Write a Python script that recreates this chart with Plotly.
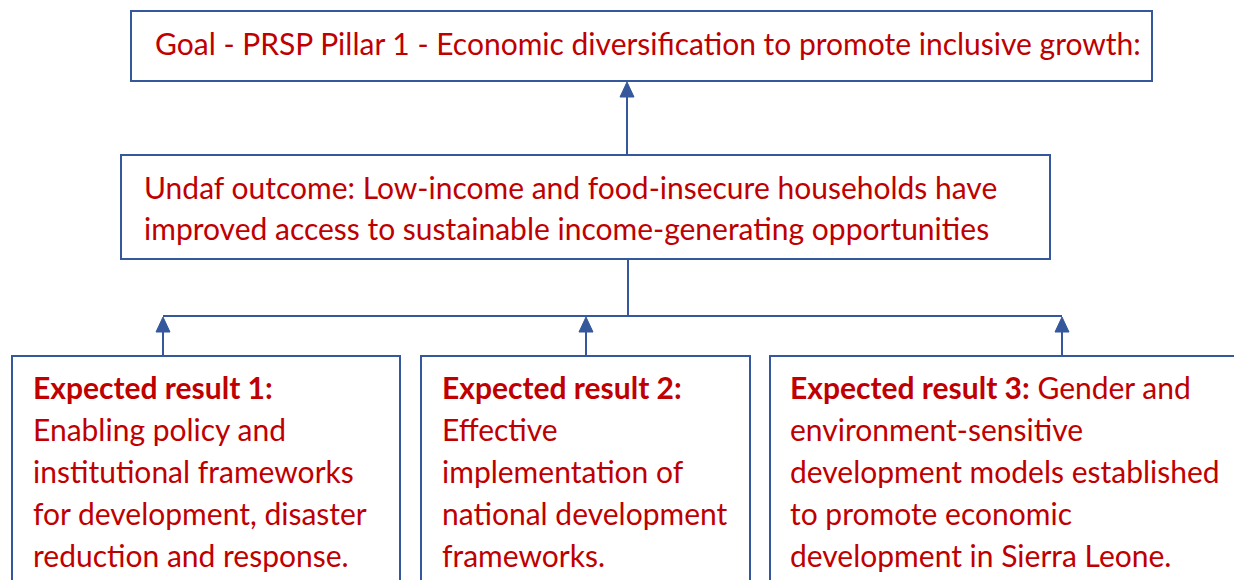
import plotly.graph_objects as go

# ---- content ----
goal_lines = ["Goal - PRSP Pillar 1 - Economic diversification to promote inclusive growth:"]
outcome_lines = [
    "Undaf outcome: Low-income and food-insecure households have",
    "improved access to sustainable income-generating opportunities",
]
result1_lines = [
    "<b>Expected result 1:</b>",
    "Enabling policy and",
    "institutional frameworks",
    "for development, disaster",
    "reduction and response.",
]
result2_lines = [
    "<b>Expected result 2:</b>",
    "Effective",
    "implementation of",
    "national development",
    "frameworks.",
]
result3_lines = [
    "<b>Expected result 3:</b> Gender and",
    "environment-sensitive",
    "development models established",
    "to promote economic",
    "development in Sierra Leone.",
]

W, H = 1234, 580
BORDER = "#34589B"
TEXT = "#C00000"
FONT = "Lato"
FS = 30

fig = go.Figure()
fig.update_xaxes(range=[0, W], visible=False, fixedrange=True)
fig.update_yaxes(range=[H, 0], visible=False, fixedrange=True)

shapes = []
def box(x0, y0, x1, y1):
    shapes.append(dict(type="rect", x0=x0, y0=y0, x1=x1, y1=y1,
                       line=dict(color=BORDER, width=2), fillcolor="white", layer="below"))

def line(x0, y0, x1, y1):
    shapes.append(dict(type="line", x0=x0, y0=y0, x1=x1, y1=y1,
                       line=dict(color=BORDER, width=2), layer="below"))

def arrow_up(x, y_from, y_tip, hw=7, hl=15):
    line(x, y_from, x, y_tip + hl - 1)
    shapes.append(dict(type="path",
                       path=f"M {x-hw},{y_tip+hl} L {x},{y_tip} L {x+hw},{y_tip+hl} Z",
                       fillcolor=BORDER, line=dict(color=BORDER, width=1), layer="below"))

# boxes
box(131, 11, 1152, 81)
box(121, 155, 1050, 259)
box(12, 356, 400, 600)
box(421, 356, 750, 600)
box(770, 356, 1250, 600)

# connectors
arrow_up(627, 155, 82)
line(628, 259, 628, 316)
line(163, 316, 1062, 316)
arrow_up(163, 356, 317)
arrow_up(586, 356, 317)
arrow_up(1062, 356, 317)

fig.update_layout(shapes=shapes)

anns = []
def text_lines(lines, x, y0, dy):
    for i, t in enumerate(lines):
        anns.append(dict(x=x, y=y0 + i * dy, text=t, showarrow=False,
                         xanchor="left", yanchor="middle", align="left",
                         font=dict(family=FONT, size=FS, color=TEXT)))

text_lines(goal_lines, 153, 42.5, 0)
text_lines(outcome_lines, 142, 186.5, 41)
text_lines(result1_lines, 31, 386.5, 42.2)
text_lines(result2_lines, 440, 386.5, 42.2)
text_lines(result3_lines, 788, 386.5, 42.2)

fig.update_layout(annotations=anns, width=W, height=H,
                  margin=dict(l=0, r=0, t=0, b=0),
                  paper_bgcolor="white", plot_bgcolor="white", showlegend=False)

fig.write_html("out.html", config={"displayModeBar": False},
               post_script="document.body.style.margin='0';document.body.style.overflow='hidden';")
